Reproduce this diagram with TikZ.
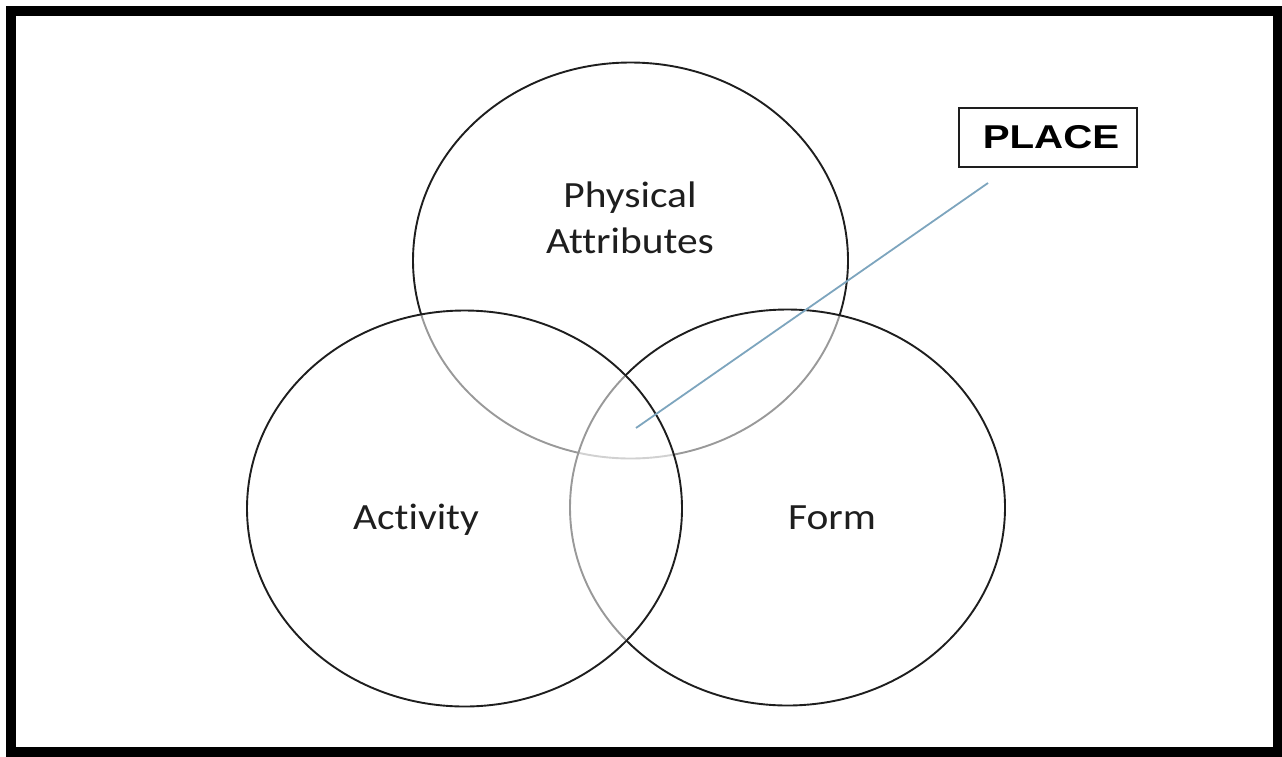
\documentclass[tikz,border=0pt]{standalone}
\usepackage{fontspec}
\setmainfont{Carlito}[Ligatures={NoCommon}]
\newfontfamily\headfont{Liberation Sans}
\usetikzlibrary{shapes.geometric}
\definecolor{leader}{RGB}{125,165,190}
\definecolor{ink}{RGB}{30,30,30}
\begin{document}
\begin{tikzpicture}[x=1pt,y=-1pt,
  ring/.style={ellipse, draw=ink, line width=1.9pt, fill=white, fill opacity=0.55,
    minimum width=435pt, minimum height=396pt, inner sep=0pt},
  lbl/.style={font=\fontsize{37}{46}\selectfont, text=ink, anchor=base,
    inner sep=0pt, xscale=1.12, align=center},
  tagbox/.style={draw=ink, line width=2pt, minimum width=178pt, minimum height=59pt,
    inner sep=0pt},
  leaderline/.style={draw=leader, line width=1.8pt}
]
\useasboundingbox (0,0) rectangle (1282,756);
% outer frame
\draw[line width=10pt] (11,10.5) rectangle (1277.5,751.5);

% the three overlapping sets
\node[ring] (phys) at (630.5,260.5) {};
\node[ring] (form) at (787.5,507.5) {};
\node[ring] (act)  at (464.5,508.5) {};

% set labels (base anchor sits on the last line)
\node[lbl] (physlbl) at (630,253) {Physical\\Attributes};
\node[lbl] (actlbl)  at (416,529) {Activity};
\node[lbl] (formlbl) at (832,529) {Form};

% title box and its leader into the common area
\node[tagbox] (place) at (1048,137.5) {};
\node[font=\headfont\bfseries\fontsize{33}{40}\selectfont, anchor=base, xscale=1.22, inner sep=0pt]
  (placelbl) at (1051,148) {PLACE};
\coordinate (leadtop) at (988,183);
\coordinate (leadend) at (636,428);
\draw[leaderline] (leadtop) -- (leadend);
\end{tikzpicture}
\end{document}
